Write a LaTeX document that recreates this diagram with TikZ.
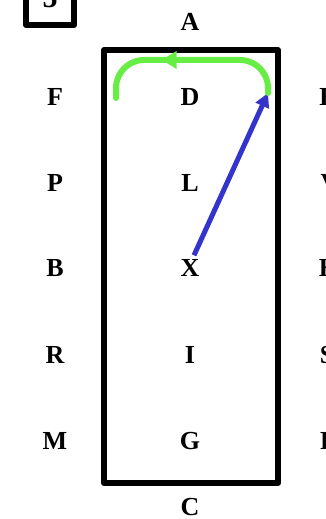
\documentclass[tikz,border=0pt]{standalone}
\usepackage{fontspec}
\setmainfont{Liberation Serif}
\usetikzlibrary{arrows.meta,decorations.markings}
\definecolor{loopgreen}{RGB}{102,238,68}
\definecolor{movblue}{RGB}{52,52,204}
\tikzset{
  cell/.style={font=\fontsize{26}{26}\selectfont\bfseries,inner sep=0pt,anchor=center},
  frame/.style={draw=black,line width=6pt,line join=round},
  loopline/.style={draw=loopgreen,line width=6pt,line cap=round,rounded corners=28pt,
    postaction={decorate},
    decoration={markings,mark=at position 0.64 with {\arrow{Triangle[length=15pt,width=17pt]}}}},
  movarrow/.style={draw=movblue,line width=5pt,-{Triangle[length=14pt,width=14pt]}},
}
\begin{document}
\begin{tikzpicture}[x=1pt,y=-1pt]
  \useasboundingbox (0,0) rectangle (326,519);
  % numbered tag, cut at the top
  \node[frame,minimum width=48pt,minimum height=50pt,inner sep=0pt,
        font=\fontsize{30}{30}\selectfont\bfseries] (tag) at (50,0) {\raisebox{5pt}{5}};
  % board
  \node[frame,minimum width=174pt,minimum height=433pt,inner sep=0pt] (board) at (191,266.5) {};
  \node[cell] (a) at (190,22) {A};
  \node[cell] (c) at (190,507) {C};
  % left column
  \node[cell] (f) at (55,97)  {F};
  \node[cell] (p) at (55,183) {P};
  \node[cell] (b) at (55,268) {B};
  \node[cell] (r) at (55,355) {R};
  \node[cell] (m) at (55,441) {M};
  % middle column
  \node[cell] (d) at (190,97)  {D};
  \node[cell] (l) at (190,183) {L};
  \node[cell] (x) at (190,268) {X};
  \node[cell] (i) at (190,355) {I};
  \node[cell] (g) at (190,441) {G};
  % right column, mostly outside
  \node[cell] (e) at (328,97)  {E};
  \node[cell] (v) at (330,183) {V};
  \node[cell] (h) at (329,268) {H};
  \node[cell] (s) at (327,355) {S};
  \node[cell] (k) at (328,441) {P};
  % moves
  \coordinate (dr) at (268,93);
  \coordinate (dl) at (116,98);
  \draw[movarrow] ([shift={(4,-4)}]x.north) -- (dr);
  \draw[loopline] (dr) -- (268,60) -- (116,60) -- (dl);
\end{tikzpicture}
\end{document}
